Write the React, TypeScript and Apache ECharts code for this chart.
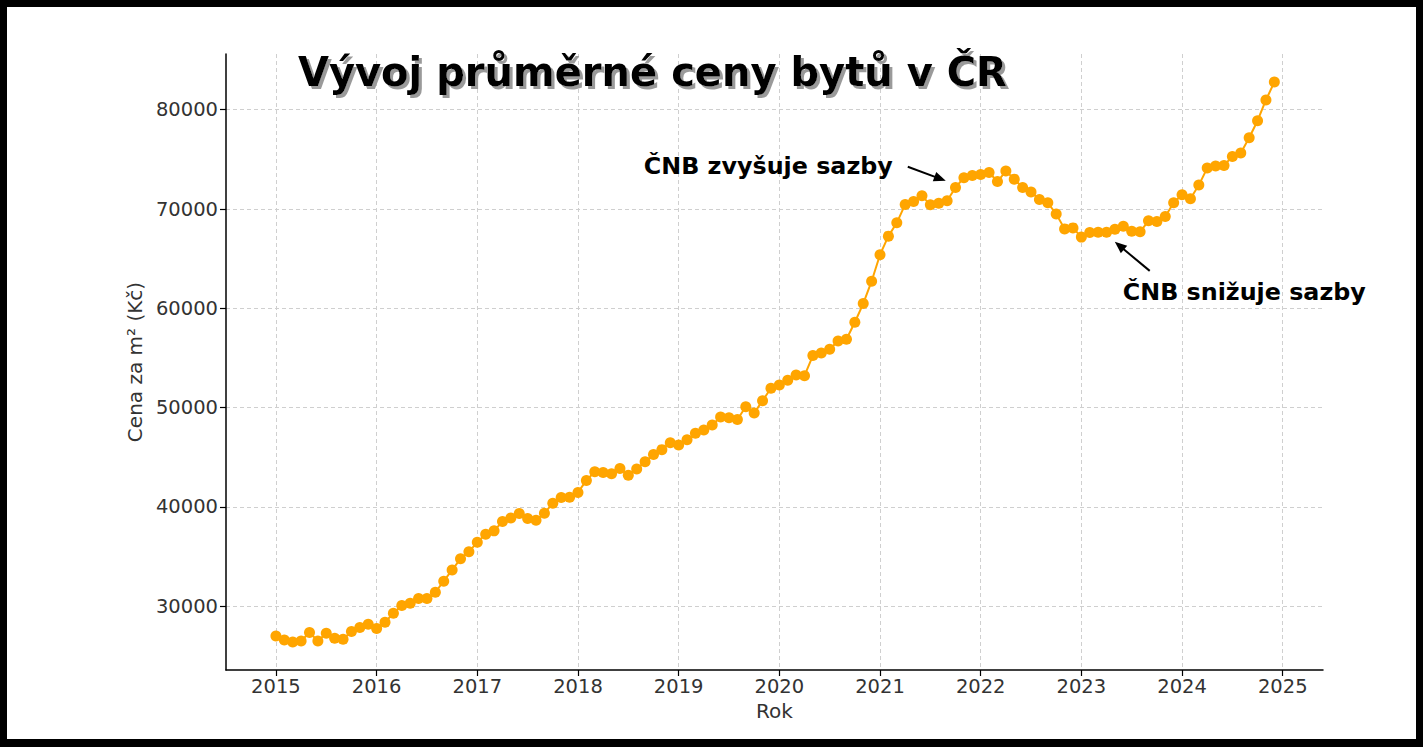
import React, { useEffect, useRef } from "react";
import * as echarts from "echarts";

const startYear = 2015;
const prices2015 = [27000, 26600, 26400, 26500, 27350, 26500, 27280, 26770, 26670, 27450, 27850, 28180];
const prices2016 = [27750, 28390, 29300, 30070, 30300, 30780, 30780, 31410, 32520, 33660, 34780, 35480];
const prices2017 = [36450, 37260, 37590, 38530, 38880, 39330, 38840, 38670, 39370, 40380, 40950, 40980];
const prices2018 = [41460, 42670, 43540, 43470, 43340, 43880, 43180, 43810, 44550, 45290, 45770, 46470];
const prices2019 = [46230, 46770, 47410, 47740, 48250, 49050, 48980, 48810, 50090, 49450, 50700, 51950];
const prices2020 = [52280, 52760, 53290, 53220, 55240, 55510, 55880, 56710, 56880, 58600, 60480, 62730];
const prices2021 = [65400, 67270, 68610, 70460, 70760, 71330, 70420, 70590, 70830, 72170, 73150, 73380];
const prices2022 = [73480, 73680, 72770, 73820, 73010, 72170, 71710, 70960, 70630, 69490, 68000, 68100];
const prices2023 = [67170, 67640, 67660, 67670, 67970, 68270, 67770, 67700, 68810, 68750, 69250, 70630];
const prices2024 = [71430, 71030, 72410, 74120, 74330, 74390, 75290, 75640, 77180, 78890, 80980, 82790];

const yearTicks = [2015, 2016, 2017, 2018, 2019, 2020, 2021, 2022, 2023, 2024, 2025];
const priceTicks = [30000, 40000, 50000, 60000, 70000, 80000];

const titleText = "Vývoj průměrné ceny bytů v ČR";
const xAxisName = "Rok";
const yAxisName = "Cena za m² (Kč)";

// annotations in data coordinates
const riseLabel = "ČNB zvyšuje sazby";
const riseText = [2021.127, 74300];
const riseArrow = [[2021.276, 74254], [2021.653, 72843]];
const fallLabel = "ČNB snižuje sazby";
const fallText = [2023.411, 61650];
const fallArrow = [[2023.679, 63770], [2023.332, 66694]];

const allPrices = [
  ...prices2015, ...prices2016, ...prices2017, ...prices2018, ...prices2019,
  ...prices2020, ...prices2021, ...prices2022, ...prices2023, ...prices2024,
];

const FONT = "DejaVu Sans";

function arrowGraphics(a: number[], b: number[]) {
  const dx = b[0] - a[0];
  const dy = b[1] - a[1];
  const len = Math.sqrt(dx * dx + dy * dy) || 1;
  const ux = dx / len;
  const uy = dy / len;
  const headLen = 12;
  const headHalf = 5;
  const bx = b[0] - ux * headLen;
  const by = b[1] - uy * headLen;
  const px = -uy;
  const py = ux;
  return [
    {
      type: "line",
      z: 12,
      shape: { x1: a[0], y1: a[1], x2: bx + ux * 2, y2: by + uy * 2 },
      style: { stroke: "#000", lineWidth: 2 },
    },
    {
      type: "polygon",
      z: 12,
      shape: {
        points: [
          [b[0], b[1]],
          [bx + px * headHalf, by + py * headHalf],
          [bx - px * headHalf, by - py * headHalf],
        ],
      },
      style: { fill: "#000" },
    },
  ];
}

export default function App() {
  const ref = useRef<HTMLDivElement>(null);

  useEffect(() => {
    if (!ref.current) return;
    const chart = echarts.init(ref.current, undefined, { renderer: "svg" });
    const seriesData = allPrices.map((v, i) => [startYear + i / 12, v]);

    chart.setOption({
      animation: false,
      backgroundColor: "#ffffff",
      grid: { left: 226, right: 100, top: 54, bottom: 77, containLabel: false },
      xAxis: {
        type: "value",
        min: 2014.504,
        max: 2025.4,
        name: xAxisName,
        nameLocation: "middle",
        nameGap: 30,
        nameTextStyle: { fontFamily: FONT, fontSize: 20, color: "#333" },
        axisLine: { show: true, onZero: false, lineStyle: { color: "#000", width: 1.5 } },
        axisTick: { show: true, length: 6, customValues: yearTicks, lineStyle: { color: "#000", width: 1.2 } },
        axisLabel: {
          customValues: yearTicks,
          margin: 6,
          fontFamily: FONT,
          fontSize: 19.5,
          color: "#333",
          formatter: (v: number) => String(Math.round(v)),
        },
        splitLine: { show: true, lineStyle: { color: "#cfcfcf", width: 1, type: [4, 3] } },
      },
      yAxis: {
        type: "value",
        min: 23580,
        max: 85610,
        name: yAxisName,
        nameLocation: "middle",
        nameGap: 80,
        nameTextStyle: { fontFamily: FONT, fontSize: 20, color: "#333" },
        axisLine: { show: true, onZero: false, lineStyle: { color: "#000", width: 1.5 } },
        axisTick: { show: true, length: 6, customValues: priceTicks, lineStyle: { color: "#000", width: 1.2 } },
        axisLabel: {
          customValues: priceTicks,
          margin: 8,
          fontFamily: FONT,
          fontSize: 19.5,
          color: "#333",
          formatter: (v: number) => String(Math.round(v)),
        },
        splitLine: { show: true, lineStyle: { color: "#cfcfcf", width: 1, type: [4, 3] } },
      },
      series: [
        {
          type: "line",
          data: seriesData,
          symbol: "circle",
          symbolSize: 11,
          showSymbol: true,
          lineStyle: { color: "#FFA500", width: 2 },
          itemStyle: { color: "#FFA500" },
          emphasis: { disabled: true },
        },
      ],
    });

    const toPx = (p: number[]) => chart.convertToPixel({ gridIndex: 0 }, p) as number[];
    const p1 = toPx(riseText);
    const p2 = toPx(fallText);
    const W = 1423;
    const H = 747;

    chart.setOption({
      graphic: [
        {
          type: "text",
          x: 298,
          y: 72,
          z: 11,
          style: {
            text: titleText,
            fontFamily: FONT,
            fontWeight: "bold",
            fontSize: 40,
            fill: "#000",
            align: "left",
            verticalAlign: "middle",
            textShadowColor: "#9a9a9a",
            textShadowBlur: 1,
            textShadowOffsetX: 3,
            textShadowOffsetY: 3,
          },
        },
        {
          type: "text",
          x: p1[0],
          y: p1[1],
          z: 11,
          style: { text: riseLabel, fontFamily: FONT, fontWeight: "bold", fontSize: 23.8, fill: "#000", align: "right", verticalAlign: "middle" },
        },
        {
          type: "text",
          x: p2[0],
          y: p2[1],
          z: 11,
          style: { text: fallLabel, fontFamily: FONT, fontWeight: "bold", fontSize: 23.8, fill: "#000", align: "left", verticalAlign: "middle" },
        },
        ...arrowGraphics(toPx(riseArrow[0]), toPx(riseArrow[1])),
        ...arrowGraphics(toPx(fallArrow[0]), toPx(fallArrow[1])),
        { type: "rect", z: 20, shape: { x: 0, y: 0, width: W, height: 7 }, style: { fill: "#000" } },
        { type: "rect", z: 20, shape: { x: 0, y: 739, width: W, height: 8 }, style: { fill: "#000" } },
        { type: "rect", z: 20, shape: { x: 0, y: 0, width: 7, height: H }, style: { fill: "#000" } },
        { type: "rect", z: 20, shape: { x: 1416, y: 0, width: 7, height: H }, style: { fill: "#000" } },
      ],
    });

    return () => {
      chart.dispose();
    };
  }, []);

  return (
    <div
      ref={ref}
      style={{ position: "fixed", left: 0, top: 0, width: 1423, height: 747, background: "#fff" }}
    />
  );
}
